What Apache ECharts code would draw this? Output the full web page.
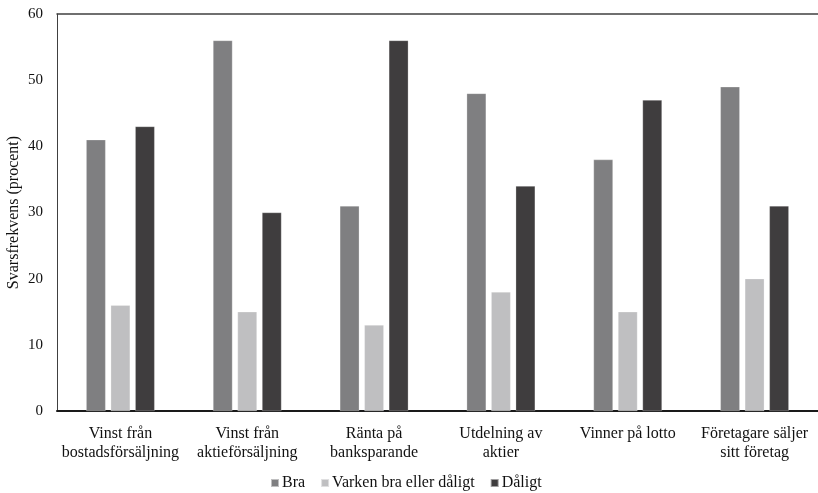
<!DOCTYPE html>
<html><head><meta charset="utf-8">
<script src="https://cdn.jsdelivr.net/npm/echarts@6/dist/echarts.min.js"></script>
<style>html,body{margin:0;padding:0;background:#fff}#c{width:818px;height:493px}</style>
</head><body><div id="c"></div>
<script>
const categories = ["Vinst från\nbostadsförsäljning","Vinst från\naktieförsäljning","Ränta på\nbanksparande","Utdelning av\naktier","Vinner på lotto","Företagare säljer\nsitt företag"];
const bra = [41,56,31,48,38,49];
const varken = [16,15,13,18,15,20];
const daligt = [43,30,56,34,47,31];
const seriesNames = ["Bra","Varken bra eller dåligt","Dåligt"];
const yTicks = {min:0,max:60,interval:10};
const font = "'Liberation Serif','DejaVu Serif',serif";
const chart = echarts.init(document.getElementById('c'));
const mk = (name, data, color) => ({name, type:'bar', data, barGap:'26%', barCategoryGap:'46%',
  itemStyle:{color, borderColor:'rgba(255,255,255,0.5)', borderWidth:0.5}});
chart.setOption({
  animation:false,
  textStyle:{fontFamily:font},
  grid:{left:57,right:0,top:14,bottom:82,outerBoundsMode:'none',containLabel:false},
  legend:{bottom:-3,left:265,itemWidth:8,itemHeight:8,itemGap:15,
    data:seriesNames,icon:'rect',textStyle:{fontFamily:font,fontSize:16,color:'#111',padding:[0,0,0,-2]}},
  xAxis:[{type:'category',data:categories,axisLine:{lineStyle:{color:'#1a1a1a',width:2}},axisTick:{show:false},
    axisLabel:{fontFamily:font,fontSize:16,color:'#111',margin:13,lineHeight:19,interval:0}},
    {type:'category',data:categories,position:'top',axisLine:{show:true,lineStyle:{color:'#404040',width:1.5}},axisTick:{show:false},axisLabel:{show:false}}],
  yAxis:{type:'value',min:yTicks.min,max:yTicks.max,interval:yTicks.interval,
    name:'Svarsfrekvens (procent)',nameLocation:'middle',nameGap:35,nameRotate:90,nameMoveOverlap:false,
    nameTextStyle:{fontFamily:font,fontSize:16,color:'#111'},
    axisLine:{show:true,lineStyle:{color:'#404040',width:1}},axisTick:{show:false},splitLine:{show:false},
    axisLabel:{fontFamily:font,fontSize:15,color:'#111',margin:14}},
  series:[mk(seriesNames[0],bra,'#7f7f81'),mk(seriesNames[1],varken,'#bfbfc1'),mk(seriesNames[2],daligt,'#3f3d3e')]
});
</script></body></html>
